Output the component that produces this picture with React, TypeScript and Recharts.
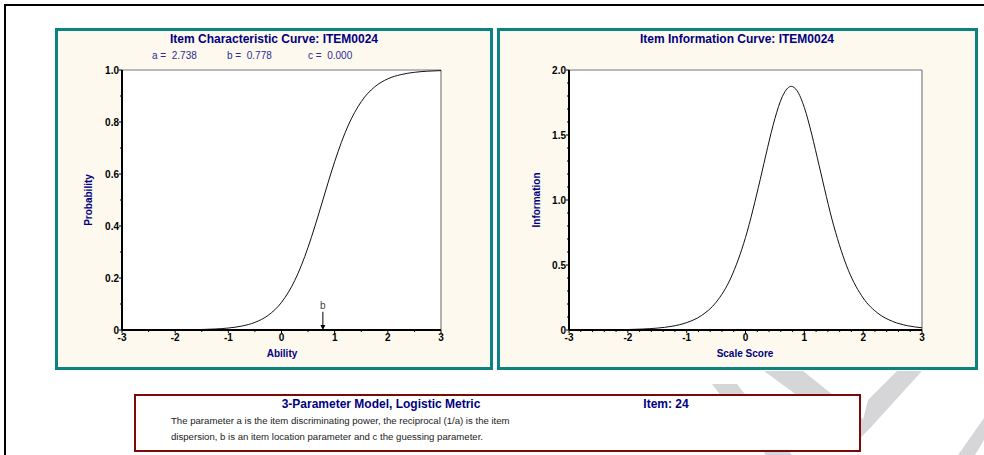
import { LineChart, Line, XAxis, YAxis, CartesianGrid, ReferenceLine } from "recharts";

// item parameters shown in the subtitle
const aParam = 2.738;
const bParam = 0.778;
const cParam = 0.0;
const itemId = "ITEM0024";
const itemNumber = 24;

// ability (theta) grid
const thetaValues = [
  -3, -2.75, -2.5, -2.25, -2, -1.75, -1.5, -1.25, -1, -0.75, -0.5, -0.25, 0,
  0.25, 0.375, 0.5, 0.625, 0.75, 0.778, 0.875, 1, 1.125, 1.25,
  1.5, 1.75, 2, 2.25, 2.5, 2.75, 3,
];
const probabilityValues = [
  0.0, 0.0001, 0.0001, 0.0003, 0.0005, 0.001, 0.002, 0.0039, 0.0076, 0.015, 0.0293, 0.0565, 0.1062,
  0.1907, 0.2491, 0.3184, 0.3968, 0.4808, 0.5, 0.566, 0.6474, 0.7212, 0.7845,
  0.8783, 0.9347, 0.966, 0.9825, 0.9911, 0.9955, 0.9977,
];
const informationValues = [
  0.0002, 0.0005, 0.001, 0.0019, 0.0037, 0.0074, 0.0146, 0.0288, 0.0568, 0.1108, 0.2132, 0.3996, 0.7116,
  1.157, 1.4023, 1.627, 1.7944, 1.8713, 1.8742, 1.8416, 1.7113, 1.5074, 1.2674,
  0.8014, 0.4576, 0.2462, 0.1289, 0.0661, 0.0336, 0.0171,
];

// ticks (labels empty = minor tick)
const iccYTicks = [0, 0.1, 0.2, 0.3, 0.4, 0.5, 0.6, 0.7, 0.8, 0.9, 1];
const iccYLabels = ["0", "", "0.2", "", "0.4", "", "0.6", "", "0.8", "", "1.0"];
const iccXTicks = [-3, -2.5, -2, -1.5, -1, -0.5, 0, 0.5, 1, 1.5, 2, 2.5, 3];
const iccXLabels = ["-3", "", "-2", "", "-1", "", "0", "", "1", "", "2", "", "3"];
const infoYTicks = [
  0, 0.1, 0.2, 0.3, 0.4, 0.5, 0.6, 0.7, 0.8, 0.9, 1, 1.1, 1.2, 1.3, 1.4, 1.5, 1.6, 1.7, 1.8, 1.9, 2,
];
const infoYLabels = [
  "0", "", "", "", "", "0.5", "", "", "", "", "1.0", "", "", "", "", "1.5", "", "", "", "", "2.0",
];
const infoXTicks = [
  -3, -2.8, -2.6, -2.4, -2.2, -2, -1.8, -1.6, -1.4, -1.2, -1, -0.8, -0.6, -0.4, -0.2, 0,
  0.2, 0.4, 0.6, 0.8, 1, 1.2, 1.4, 1.6, 1.8, 2, 2.2, 2.4, 2.6, 2.8, 3,
];
const infoXLabels = [
  "-3", "", "", "", "", "-2", "", "", "", "", "-1", "", "", "", "", "0",
  "", "", "", "", "1", "", "", "", "", "2", "", "", "", "", "3",
];

const curveData = thetaValues.map((theta, i) => ({
  theta,
  prob: probabilityValues[i],
  info: informationValues[i],
}));

const FONT = '"Liberation Sans", Arial, Helvetica, sans-serif';
const NAVY = "#000080";
const TEAL = "#0b8481";
const CREAM = "#fdf9ee";

const YTick = ({ x, y, index, labels }: any) => {
  const label = labels[index];
  const len = label ? 3 : 2;
  return (
    <g>
      <line x1={x - len} x2={x} y1={y} y2={y} stroke="#000" strokeWidth={1} />
      {label && (
        <text x={x - 3} y={y} dy="0.36em" textAnchor="end" fontSize={10} fontWeight="bold" fontFamily={FONT} fill="#000">
          {label}
        </text>
      )}
    </g>
  );
};

const XTick = ({ x, y, index, labels }: any) => {
  const label = labels[index];
  const len = label ? 3 : 2;
  return (
    <g>
      <line x1={x} x2={x} y1={y} y2={y + len} stroke="#000" strokeWidth={1} />
      {label && (
        <text x={x} y={y + 4} dy="0.71em" textAnchor="middle" fontSize={10} fontWeight="bold" fontFamily={FONT} fill="#000">
          {label}
        </text>
      )}
    </g>
  );
};

const BArrow = ({ x1, y1, x2, y2 }: any) => (
  <g>
    <text x={x1} y={y1 - 3} textAnchor="middle" fontSize={10} fontFamily={FONT} fill="#444">
      b
    </text>
    <line x1={x1} y1={y1} x2={x2} y2={y2 - 4} stroke="#000" strokeWidth={1} />
    <path d={`M${x2 - 2.5},${y2 - 5} L${x2 + 2.5},${y2 - 5} L${x2},${y2} Z`} fill="#000" />
  </g>
);

const Text = ({ cx, cy, w, h = 14, size, bold, color, rotate, children, align = "center" }: any) => (
  <div
    style={{
      position: "absolute",
      left: cx - w / 2,
      top: cy - h / 2,
      width: w,
      height: h,
      lineHeight: `${h}px`,
      textAlign: align,
      fontFamily: FONT,
      fontSize: size,
      fontWeight: bold ? "bold" : "normal",
      color,
      whiteSpace: "pre",
      transform: rotate ? `rotate(${rotate}deg)` : undefined,
    }}
  >
    {children}
  </div>
);

const Panel = ({ left, width }: any) => (
  <div
    style={{
      position: "absolute",
      left,
      top: 28,
      width,
      height: 342,
      boxSizing: "border-box",
      border: `3px solid ${TEAL}`,
      background: CREAM,
    }}
  />
);

export default function App() {
  return (
    <div style={{ position: "relative", width: 984, height: 455, background: "#fff", overflow: "hidden" }}>
      <style>{"body{margin:0}"}</style>

      {/* page frame */}
      <div
        style={{
          position: "absolute",
          left: 4,
          top: 4,
          width: 1000,
          height: 500,
          borderLeft: "2px solid #000",
          borderTop: "2px solid #000",
        }}
      />

      {/* watermark strokes */}
      <svg width={984} height={455} style={{ position: "absolute", left: 0, top: 0 }}>
        <g fill="#d6d6d8">
          <polygon points="712,384 737,384 792,455 766,455" />
          <polygon points="764,371 803,371 872,426 858,440" />
          <polygon points="858,440 872,426 922,371 897,371 868,400" />
          <polygon points="958,455 984,418 984,440 975,455" />
        </g>
      </svg>

      {/* left panel: item characteristic curve */}
      <Panel left={55} width={438} />
      <Text cx={274} cy={39} w={400} size={12} bold color={NAVY}>
        {`Item Characteristic Curve: ${itemId}`}
      </Text>
      <Text cx={182} cy={56} w={60} size={10} color="#2b2b96" align="left">
        {`a =  ${aParam.toFixed(3)}`}
      </Text>
      <Text cx={257} cy={56} w={60} size={10} color="#2b2b96" align="left">
        {`b =  ${bParam.toFixed(3)}`}
      </Text>
      <Text cx={338} cy={56} w={60} size={10} color="#2b2b96" align="left">
        {`c =  ${cParam.toFixed(3)}`}
      </Text>
      <Text cx={282} cy={354} w={100} size={10} bold color={NAVY}>
        Ability
      </Text>
      <Text cx={89} cy={200} w={80} size={10} bold color={NAVY} rotate={-90}>
        Probability
      </Text>
      <div style={{ position: "absolute", left: 55, top: 28 }}>
        <LineChart width={438} height={342} data={curveData} margin={{ top: 42, right: 52, left: 37, bottom: 10 }}>
          <CartesianGrid horizontal={false} vertical={false} fill="#fff" />
          <XAxis
            dataKey="theta"
            type="number"
            domain={[-3, 3]}
            ticks={iccXTicks}
            interval={0}
            height={30}
            tickSize={0}
            tickMargin={0}
            axisLine={{ stroke: "#000", strokeWidth: 2 }}
            tick={(p: any) => <XTick {...p} labels={iccXLabels} />}
          />
          <YAxis
            type="number"
            domain={[0, 1]}
            ticks={iccYTicks}
            interval={0}
            width={30}
            tickSize={0}
            tickMargin={0}
            axisLine={{ stroke: "#000", strokeWidth: 2 }}
            tick={(p: any) => <YTick {...p} labels={iccYLabels} />}
          />
          <ReferenceLine y={1} stroke="#777" strokeWidth={1} />
          <ReferenceLine x={3} stroke="#666" strokeWidth={1} />
          <ReferenceLine y={cParam} stroke="#4a1a5c" strokeWidth={1.5} />
          <ReferenceLine
            segment={[
              { x: bParam, y: 0.07 },
              { x: bParam, y: 0 },
            ]}
            shape={(p: any) => <BArrow {...p} />}
          />
          <Line
            dataKey="prob"
            type="monotone"
            stroke="#111"
            strokeWidth={1}
            dot={false}
            isAnimationActive={false}
          />
        </LineChart>
      </div>

      {/* right panel: item information curve */}
      <Panel left={497} width={481} />
      <Text cx={737} cy={39} w={400} size={12} bold color={NAVY}>
        {`Item Information Curve: ${itemId}`}
      </Text>
      <Text cx={745} cy={354} w={120} size={10} bold color={NAVY}>
        Scale Score
      </Text>
      <Text cx={537} cy={200} w={80} size={10} bold color={NAVY} rotate={-90}>
        Information
      </Text>
      <div style={{ position: "absolute", left: 497, top: 28 }}>
        <LineChart width={481} height={342} data={curveData} margin={{ top: 42, right: 56, left: 42, bottom: 10 }}>
          <CartesianGrid horizontal={false} vertical={false} fill="#fff" />
          <XAxis
            dataKey="theta"
            type="number"
            domain={[-3, 3]}
            ticks={infoXTicks}
            interval={0}
            height={30}
            tickSize={0}
            tickMargin={0}
            axisLine={{ stroke: "#000", strokeWidth: 2 }}
            tick={(p: any) => <XTick {...p} labels={infoXLabels} />}
          />
          <YAxis
            type="number"
            domain={[0, 2]}
            ticks={infoYTicks}
            interval={0}
            width={30}
            tickSize={0}
            tickMargin={0}
            axisLine={{ stroke: "#000", strokeWidth: 2 }}
            tick={(p: any) => <YTick {...p} labels={infoYLabels} />}
          />
          <ReferenceLine y={2} stroke="#777" strokeWidth={1} />
          <ReferenceLine x={3} stroke="#666" strokeWidth={1} />
          <Line
            dataKey="info"
            type="monotone"
            stroke="#111"
            strokeWidth={1}
            dot={false}
            isAnimationActive={false}
          />
        </LineChart>
      </div>

      {/* model description box */}
      <div
        style={{
          position: "absolute",
          left: 134,
          top: 394,
          width: 727,
          height: 58,
          boxSizing: "border-box",
          border: "2px solid #7a0a0a",
          background: "#fff",
        }}
      />
      <Text cx={381} cy={404} w={300} size={12} bold color={NAVY}>
        3-Parameter Model, Logistic Metric
      </Text>
      <Text cx={666} cy={404} w={80} size={12} bold color={NAVY}>
        {`Item: ${itemNumber}`}
      </Text>
      <div
        style={{
          position: "absolute",
          left: 171,
          top: 413,
          fontFamily: FONT,
          fontSize: 9.6,
          lineHeight: "16px",
          color: "#222",
        }}
      >
        The parameter a is the item discriminating power, the reciprocal (1/a) is the item
        <br />
        dispersion, b is an item location parameter and c the guessing parameter.
      </div>
    </div>
  );
}
